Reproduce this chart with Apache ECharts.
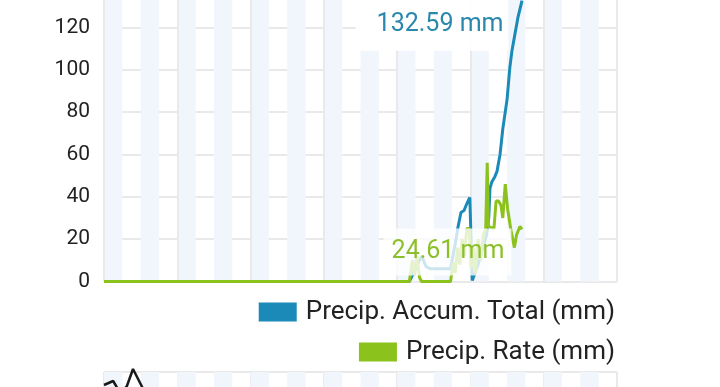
<!DOCTYPE html>
<html><head><meta charset="utf-8">
<script src="https://cdn.jsdelivr.net/npm/echarts@6/dist/echarts.min.js"></script>
<style>html,body{margin:0;padding:0;background:#fff}#c{width:720px;height:387px}</style>
</head><body><div id="c"></div>
<script>
// x in hours over a 7-day window (vertical lines = midnight)
const seriesNames = ['Precip. Accum. Total (mm)', 'Precip. Rate (mm)'];
const yTicks = [0, 20, 40, 60, 80, 100, 120];

const accumHours  = [0, 100, 102, 104, 105.5, 107, 113.5, 115.3, 115.9, 116.9, 117.9, 118.9, 119.8, 120.6, 121.5, 122.5, 123.5, 124.5, 125.3, 126.0, 126.4, 127, 128, 128.7, 129.7, 130.6, 132, 132.9, 133.6, 134.6, 135.6, 136.9];
const accumValues = [0, 0, 6, 12, 7, 6, 6, 20, 25.5, 32.6, 33.5, 37, 39.7, 0.5, 4, 8, 13, 18, 22, 30, 44, 47, 49.5, 52, 60, 72, 86, 101, 109, 117, 125, 132.59];

const rateHours  = [0, 100, 101, 101.7, 102.5, 103.3, 104, 113.5, 114.3, 115, 115.8, 116.5, 117.3, 118, 118.8, 119.6, 120.2, 121, 121.7, 122.5, 123.3, 124.2, 125, 125.5, 125.9, 126.5, 127.7, 128.4, 129.2, 130, 130.6, 131.4, 132.2, 133.3, 134.4, 135.1, 136.2, 136.9];
const rateValues = [0, 0, 10, 3, 12, 2, 0, 0, 9, 4, 16, 8, 20, 12, 25, 25, 6, 16, 4, 20, 10, 22, 24.5, 56, 26, 25.5, 25, 38, 38, 36, 30, 46, 34, 24, 16, 22, 26, 24.61];

// next (cut-off) chart below
const lowerHours  = [0, 3, 5.5, 7.5, 9.5, 12.5, 14, 20];
const lowerValues = [187, 191, 178, 186, 203, 185, 176, 170];

const zip = (a, b) => a.map((v, i) => [v, b[i]]);
const lastAccum = [accumHours[accumHours.length - 1], accumValues[accumValues.length - 1]];
const lastRate = [rateHours[rateHours.length - 1], rateValues[rateValues.length - 1]];

const blue = '#1b8ab8', green = '#8cc21c';
const gridLine = {show: true, lineStyle: {color: '#e9e9e9', width: 2}};
const stripe = {show: true, areaStyle: {color: ['#f1f6fc', 'rgba(255,255,255,0)']}};
const hidden = {show: false};

const chart = echarts.init(document.getElementById('c'), null, {renderer: 'canvas'});
chart.setOption({
  animation: false,
  backgroundColor: '#fff',
  textStyle: {fontFamily: 'Roboto'},
  grid: [
    {left: 104, right: 103, top: -15, height: 296.5, outerBoundsMode: 'none', containLabel: false},
    {left: 104, right: 103, top: 372, height: 200, outerBoundsMode: 'none', containLabel: false}
  ],
  legend: [
    {data: [seriesNames[0]], right: 105, top: 299, padding: 0, icon: 'rect', itemWidth: 38, itemHeight: 19,
     textStyle: {fontSize: 26, color: '#222', lineHeight: 26, padding: [0, 0, 0, 4]}},
    {data: [seriesNames[1]], right: 105, top: 339, padding: 0, icon: 'rect', itemWidth: 38, itemHeight: 19,
     textStyle: {fontSize: 26, color: '#222', lineHeight: 26, padding: [0, 0, 0, 4]}}
  ],
  xAxis: [
    {type: 'value', gridIndex: 0, min: 0, max: 168, interval: 24, axisLine: hidden, axisTick: hidden, axisLabel: hidden, splitLine: gridLine, z: 1},
    {type: 'value', gridIndex: 0, min: 0, max: 168, interval: 6, position: 'top', axisLine: hidden, axisTick: hidden, axisLabel: hidden, splitLine: hidden, splitArea: stripe},
    {type: 'value', gridIndex: 1, min: 0, max: 168, interval: 24, axisLine: hidden, axisTick: hidden, axisLabel: hidden, splitLine: gridLine},
    {type: 'value', gridIndex: 1, min: 0, max: 168, interval: 6, position: 'top', axisLine: hidden, axisTick: hidden, axisLabel: hidden, splitLine: hidden, splitArea: stripe}
  ],
  yAxis: [
    {type: 'value', gridIndex: 0, min: 0, max: 140, interval: 20, axisLine: hidden, axisTick: hidden,
     axisLabel: {fontSize: 21, color: '#222', margin: 14, formatter: v => yTicks.includes(v) ? String(v) : ''},
     splitLine: gridLine},
    {type: 'value', gridIndex: 1, min: 0, max: 200, interval: 200, axisLine: hidden, axisTick: hidden, axisLabel: hidden, splitLine: gridLine}
  ],
  series: [
    {name: seriesNames[0], type: 'line', xAxisIndex: 0, yAxisIndex: 0, data: zip(accumHours, accumValues),
     symbol: 'none', color: blue, lineStyle: {width: 3, color: blue}, z: 3,
     markPoint: {symbol: 'circle', symbolSize: 0, z: 10,
       data: [{coord: lastAccum, value: lastAccum[1]}],
       label: {show: true, position: 'inside', offset: [-90, 24.5], formatter: p => p.value + ' mm',
               fontSize: 25, fontFamily: 'Roboto', color: '#2b88ad', backgroundColor: 'rgba(255,255,255,0.94)',
               padding: [13, 5, 13, 21]}}},
    {name: seriesNames[1], type: 'line', xAxisIndex: 0, yAxisIndex: 0, data: zip(rateHours, rateValues),
     symbol: 'none', color: green, lineStyle: {width: 3, color: green}, z: 4,
     markPoint: {symbol: 'circle', symbolSize: 0, z: 10,
       data: [{coord: lastRate, value: lastRate[1]}],
       label: {show: true, position: 'inside', offset: [-74.5, 22.6], formatter: p => p.value + ' mm',
               fontSize: 25, fontFamily: 'Roboto', color: '#8dbf2c', backgroundColor: 'rgba(255,255,255,0.78)',
               padding: [11, 7, 11, 8]}}},
    {name: 'lower', type: 'line', xAxisIndex: 2, yAxisIndex: 1, data: zip(lowerHours, lowerValues),
     symbol: 'none', clip: false, lineStyle: {width: 2.5, color: '#1a1a1a'}}
  ]
});
</script>
</body></html>
